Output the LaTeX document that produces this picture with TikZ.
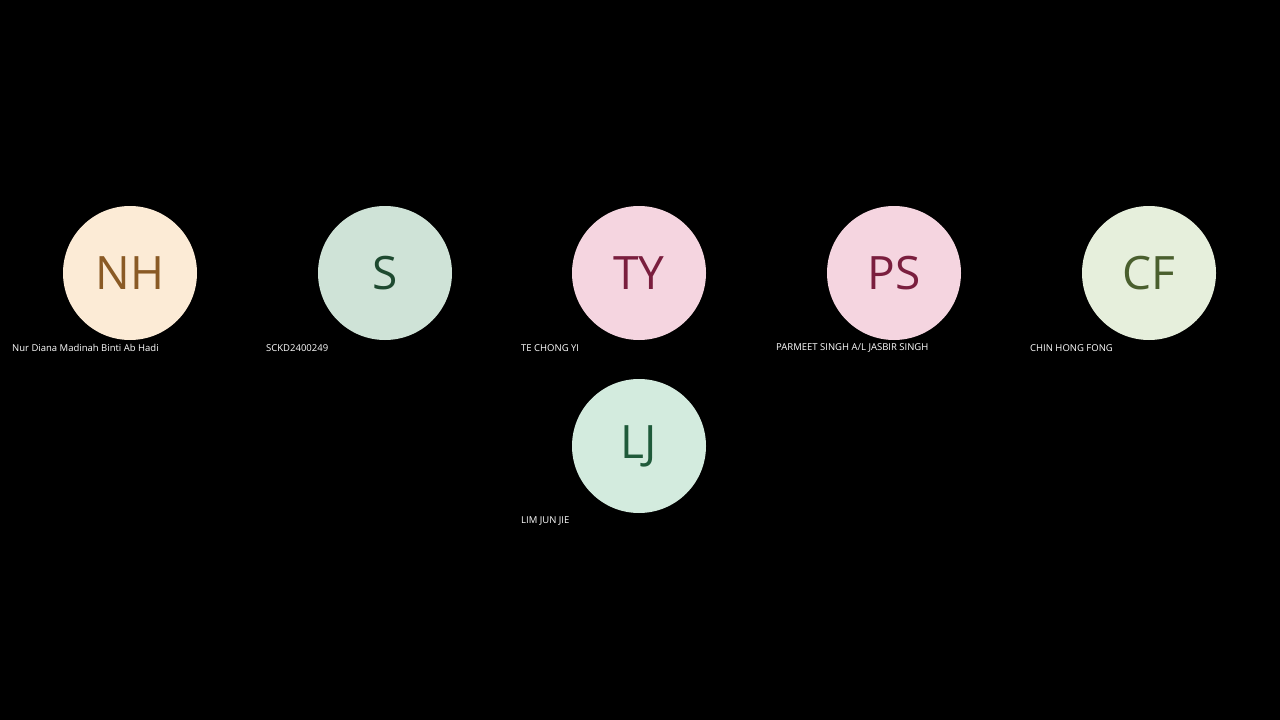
\documentclass[tikz,border=0pt]{standalone}
\usepackage{fontspec}
\setmainfont{Open Sans}
\definecolor{f1}{HTML}{FCEBD6}\definecolor{t1}{HTML}{8A5A25}
\definecolor{f2}{HTML}{CFE3D7}\definecolor{t2}{HTML}{1E4A30}
\definecolor{f3}{HTML}{F5D5E0}\definecolor{t3}{HTML}{7A1E3E}
\definecolor{f5}{HTML}{E6EFDC}\definecolor{t5}{HTML}{4A5F2E}
\definecolor{f6}{HTML}{D3EBDE}\definecolor{t6}{HTML}{1F5A3A}
\tikzset{avatar/.style={circle,minimum size=134pt,inner sep=0pt,font=\fontsize{46}{46}\selectfont},
 lbl/.style={anchor=west,inner sep=0pt,text=white,font=\fontsize{9.5}{10}\selectfont}}
\begin{document}
\begin{tikzpicture}[x=1pt,y=-1pt]
\fill[black] (0,0) rectangle (1280,720);
\useasboundingbox (0,0) rectangle (1280,720);
\node[avatar,fill=f1,text=t1] (nh) at (130,273) {NH};
\node[avatar,fill=f2,text=t2] (s) at (385,273) {S};
\node[avatar,fill=f3,text=t3] (ty) at (639,273) {TY};
\node[avatar,fill=f3,text=t3] (ps) at (894,273) {PS};
\node[avatar,fill=f5,text=t5] (cf) at (1149,273) {CF};
\node[avatar,fill=f6,text=t6] (lj) at (639,446) {LJ};
\node[lbl] (l1) at (12,348) {Nur Diana Madinah Binti Ab Hadi};
\node[lbl] (l2) at (266,348) {SCKD2400249};
\node[lbl] (l3) at (521,348) {TE CHONG YI};
\node[lbl] (l4) at (776,348) {PARMEET SINGH A/L JASBIR SINGH};
\node[lbl] (l5) at (1030,348) {CHIN HONG FONG};
\node[lbl] (l6) at (521,521) {LIM JUN JIE};
\end{tikzpicture}
\end{document}
